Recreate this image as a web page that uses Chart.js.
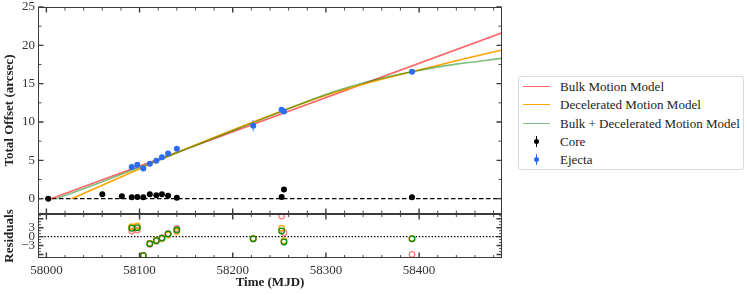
<!DOCTYPE html>
<html>
<head>
<meta charset="utf-8">
<script src="https://cdn.jsdelivr.net/npm/chart.js@4"></script>
<style>
  body { margin: 0; background: #fff; width: 747px; height: 295px; overflow: hidden; position: relative; font-family: "Liberation Serif", serif; }
  #main { position: absolute; left: 0; top: 0; }
  #resid { position: absolute; left: 0; top: 200px; }
  .legend { position: absolute; left: 518px; top: 76px; width: 226px; height: 94px; border: 1px solid #d9d9d9; border-radius: 3px; box-sizing: border-box; font-size: 13px; color: #222; }
  .legend .row { position: absolute; left: 0; height: 18px; width: 100%; }
  .legend .sw { position: absolute; left: 4px; top: 8px; width: 27px; height: 0; border-top: 1.6px solid; }
  .legend .dot { position: absolute; left: 15px; top: 6px; width: 5px; height: 5px; border-radius: 50%; }
  .legend .bar { position: absolute; left: 17px; top: 3px; width: 1.3px; height: 11px; }
  .legend .txt { position: absolute; left: 41px; top: 0; line-height: 17px; white-space: nowrap; }
</style>
</head>
<body>
<canvas id="main" width="510" height="222"></canvas>
<canvas id="resid" width="510" height="95"></canvas>
<div class="legend" id="legend"></div>
<script>
// observations
const coreMJD = [58002, 58060, 58081, 58091.6, 58097.6, 58104, 58111, 58118, 58124, 58130.6, 58140, 58252.5, 58255, 58392.4];
const coreOffset = [0, 0.56, 0.3, 0.17, 0.22, 0.17, 0.56, 0.43, 0.56, 0.39, 0.13, 0.22, 1.18, 0.2];
const coreErr = [0.1, 0.1, 0.1, 0.1, 0.1, 0.1, 0.1, 0.1, 0.1, 0.1, 0.1, 0.1, 0.1, 0.1];

const ejectaMJD = [58091.6, 58097.6, 58104, 58111, 58118, 58124, 58130.6, 58140, 58222, 58252.5, 58255, 58392.4];
const ejectaOffset = [4.14, 4.44, 3.92, 4.57, 4.93, 5.4, 5.88, 6.5, 9.5, 11.6, 11.37, 16.56];
const ejectaErr = [0.15, 0.15, 0.15, 0.15, 0.15, 0.15, 0.15, 0.15, 0.75, 0.2, 0.2, 0.2];

// model curves
const bulkMJD = [58004.7, 58489];
const bulkFit = [0, 21.63];
const decelMJD = [58027, 58060, 58100, 58140, 58200, 58250, 58300, 58350, 58392, 58440, 58489];
const decelFit = [0, 1.75, 3.9, 6.0, 8.95, 11.3, 13.5, 15.25, 16.55, 18.0, 19.4];
const comboMJD = [58011, 58060, 58100, 58140, 58200, 58250, 58300, 58350, 58392, 58440, 58489];
const comboFit = [0, 2.2, 4.1, 6.0, 8.85, 11.25, 13.6, 15.4, 16.55, 17.55, 18.3];

// residuals at the ejecta epochs
const bulkResid = [1.9, 2.2, -6.3, -2.6, -1.5, -0.4, 1.0, 2.7, -0.7, 6.9, 1.3, -6.0];
const decelResid = [3.3, 3.6, -6.4, -2.2, -1.2, -0.7, 0.55, 1.7, -0.7, 2.8, -1.4, -0.7];
const comboResid = [2.8, 3.0, -6.4, -2.4, -1.4, -0.5, 0.9, 2.2, -0.7, 1.9, -1.8, -0.7];

// axes
const xRange = [57991, 58489];
const xTickVals = [58000, 58100, 58200, 58300, 58400];
const mainYRange = [-2, 25];
const mainYTicks = [0, 5, 10, 15, 20, 25];
const residYRange = [-7.2, 7.6];
const residYTicks = [-3, 0, 3];

const legendLabels = ["Bulk Motion Model", "Decelerated Motion Model", "Bulk + Decelerated Motion Model", "Core", "Ejecta"];

const RED = "rgba(255,0,0,0.6)";
const ORANGE = "#ffa500";
const GREEN = "rgba(0,128,0,0.5)";
const BLUE = "#2b6cf5";
const FONT = "Liberation Serif";

const pts = (xs, ys) => xs.map((x, i) => ({ x: x, y: ys[i] }));

const errorBars = {
  id: "errorBars",
  beforeDatasetsDraw(chart) {
    const { ctx, scales: { x, y } } = chart;
    chart.data.datasets.forEach((ds) => {
      if (!ds.errors) return;
      ctx.save();
      ctx.strokeStyle = ds.errorColor;
      ctx.lineWidth = 1.5;
      ds.data.forEach((p, j) => {
        const px = x.getPixelForValue(p.x);
        ctx.beginPath();
        ctx.moveTo(px, y.getPixelForValue(p.y - ds.errors[j]));
        ctx.lineTo(px, y.getPixelForValue(p.y + ds.errors[j]));
        ctx.stroke();
      });
      ctx.restore();
    });
  },
};

// matplotlib-like frame with inward ticks on all four sides
const frameTicks = {
  id: "frameTicks",
  afterDatasetsDraw(chart, args, o) {
    const { ctx, chartArea: a, scales: { x, y } } = chart;
    ctx.save();
    ctx.strokeStyle = "#3a3a3a";
    const L = Math.round(a.left) + 0.5, R = Math.round(a.right) - 0.5;
    const T = Math.round(a.top) + 0.5, B = Math.round(a.bottom) - 0.5;
    ctx.lineWidth = 1;
    ctx.strokeRect(L, T, R - L, B - T);
    const run = (scale, minor, major, draw) => {
      for (let v = Math.ceil(scale.min / minor) * minor; v <= scale.max + 1e-9; v += minor) {
        const isMajor = Math.abs(v / major - Math.round(v / major)) < 1e-6;
        draw(scale.getPixelForValue(v), isMajor ? o.majorLen : o.minorLen, isMajor ? 1.4 : 0.9);
      }
    };
    run(x, o.xMinor, o.xMajor, (p, len, w) => {
      ctx.lineWidth = w;
      ctx.beginPath();
      ctx.moveTo(p, T); ctx.lineTo(p, T + len);
      ctx.moveTo(p, B); ctx.lineTo(p, B - len);
      ctx.stroke();
    });
    run(y, o.yMinor, o.yMajor, (p, len, w) => {
      ctx.lineWidth = w;
      ctx.beginPath();
      ctx.moveTo(L, p); ctx.lineTo(L + len, p);
      ctx.moveTo(R, p); ctx.lineTo(R - len, p);
      ctx.stroke();
    });
    ctx.restore();
  },
};

const tickFont = { family: FONT, size: 13 };
const titleFont = { family: FONT, size: 13, weight: "bold" };

function yAxis(range, ticks, title, width, fmt) {
  return {
    min: range[0],
    max: range[1],
    afterFit: (s) => { s.width = width; s.paddingTop = 0; s.paddingBottom = 0; },
    afterBuildTicks: (s) => { s.ticks = ticks.map((v) => ({ value: v })); },
    grid: { display: false, drawTicks: false },
    border: { display: false },
    ticks: { padding: 3, color: "#333", font: tickFont, callback: fmt },
    title: { display: true, text: title, color: "#222", font: titleFont, padding: { top: 2, bottom: 0 } },
  };
}

new Chart(document.getElementById("main"), {
  type: "scatter",
  data: {
    datasets: [
      { data: pts(ejectaMJD, ejectaOffset), errors: ejectaErr, errorColor: "rgba(43,108,245,0.55)", backgroundColor: BLUE, borderWidth: 0, pointRadius: 3, order: 0 },
      { data: pts(coreMJD, coreOffset), errors: coreErr, errorColor: "#000", backgroundColor: "#000", borderWidth: 0, pointRadius: 3, order: 1 },
      { data: pts(comboMJD, comboFit), showLine: true, borderColor: GREEN, borderWidth: 1.6, pointRadius: 0, cubicInterpolationMode: "monotone", order: 2 },
      { data: pts(decelMJD, decelFit), showLine: true, borderColor: ORANGE, borderWidth: 1.6, pointRadius: 0, cubicInterpolationMode: "monotone", order: 3 },
      { data: pts(bulkMJD, bulkFit), showLine: true, borderColor: RED, borderWidth: 1.6, pointRadius: 0, order: 4 },
      { data: pts(xRange, [0, 0]), showLine: true, borderColor: "#000", borderWidth: 1.3, borderDash: [4.5, 2.5], pointRadius: 0, order: 5 },
    ],
  },
  options: {
    responsive: false,
    animation: false,
    events: [],
    layout: { padding: { left: 0, right: 8, top: 7, bottom: 8 } },
    plugins: {
      legend: { display: false },
      tooltip: { enabled: false },
      frameTicks: { xMinor: 20, xMajor: 100, yMinor: 2.5, yMajor: 5, majorLen: 5, minorLen: 3 },
    },
    scales: {
      x: { type: "linear", min: xRange[0], max: xRange[1], display: false },
      y: yAxis(mainYRange, mainYTicks, "Total Offset (arcsec)", 38),
    },
  },
  plugins: [errorBars, frameTicks],
});

const ring = (ys, color, order) => ({
  data: pts(ejectaMJD, ys), backgroundColor: "rgba(0,0,0,0)", borderColor: color, borderWidth: 1.3, pointRadius: 2.8, order: order,
});

new Chart(document.getElementById("resid"), {
  type: "scatter",
  data: {
    datasets: [
      ring(comboResid, "#0a8a0a", 0),
      ring(decelResid, ORANGE, 1),
      ring(bulkResid, "rgba(255,0,0,0.5)", 2),
      { data: pts(xRange, [0, 0]), showLine: true, borderColor: "#000", borderWidth: 1.3, borderDash: [1.4, 1.8], pointRadius: 0, order: 3 },
    ],
  },
  options: {
    responsive: false,
    animation: false,
    events: [],
    layout: { padding: { left: 0, right: 8, top: 14, bottom: 0 } },
    plugins: {
      legend: { display: false },
      tooltip: { enabled: false },
      frameTicks: { xMinor: 20, xMajor: 100, yMinor: 1, yMajor: 3, majorLen: 5, minorLen: 2.5 },
    },
    scales: {
      x: {
        type: "linear",
        min: xRange[0],
        max: xRange[1],
        afterFit: (s) => { s.height = 37; s.paddingLeft = 0; s.paddingRight = 0; },
        afterBuildTicks: (s) => { s.ticks = xTickVals.map((v) => ({ value: v })); },
        grid: { display: false, drawTicks: false },
        border: { display: false },
        ticks: { padding: 5, color: "#333", font: tickFont, maxRotation: 0, callback: (v) => String(v) },
        title: { display: true, text: "Time (MJD)", color: "#222", font: titleFont, padding: { top: 0, bottom: 5 } },
      },
      y: yAxis(residYRange, residYTicks, "Residuals", 38, (v) => (v < 0 ? "\u2212" + Math.abs(v) : String(v))),
    },
  },
  plugins: [frameTicks],
});

// legend
const legendStyles = [
  { kind: "line", color: RED },
  { kind: "line", color: ORANGE },
  { kind: "line", color: GREEN },
  { kind: "marker", color: "#000" },
  { kind: "marker", color: BLUE },
];
const legendBox = document.getElementById("legend");
legendLabels.forEach((label, i) => {
  const st = legendStyles[i];
  const row = document.createElement("div");
  row.className = "row";
  row.style.top = (1 + i * 18.3) + "px";
  if (st.kind === "line") {
    row.innerHTML = `<div class="sw" style="border-color:${st.color}"></div>`;
  } else {
    row.innerHTML = `<div class="bar" style="background:${st.color}"></div><div class="dot" style="background:${st.color}"></div>`;
  }
  row.innerHTML += `<div class="txt">${label}</div>`;
  legendBox.appendChild(row);
});
</script>
</body>
</html>
